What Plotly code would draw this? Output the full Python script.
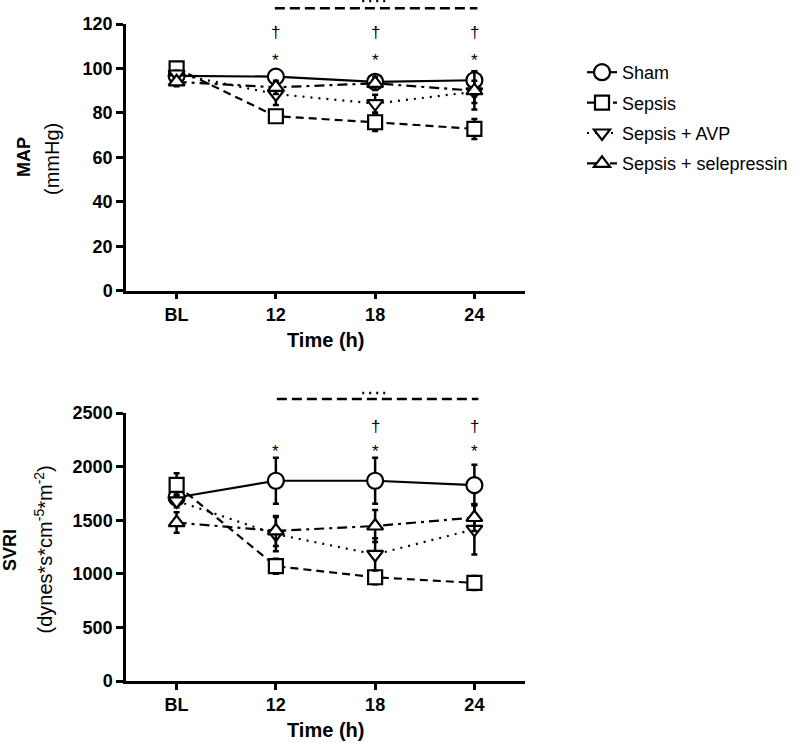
import plotly.graph_objects as go

# ---------------- data ----------------
time_labels = ["BL", "12", "18", "24"]
time_pos = [0, 1, 2, 3]
groups = ["Sham", "Sepsis", "Sepsis + AVP", "Sepsis + selepressin"]

map_sham = [96.7, 96.3, 94.0, 94.7]
map_sham_err = [1.0, 2.5, 2.0, 4.0]
map_sepsis = [100.0, 78.5, 75.8, 72.8]
map_sepsis_err = [1.5, 2.5, 4.0, 4.5]
map_avp = [97.5, 88.5, 84.2, 89.5]
map_avp_err = [1.5, 5.0, 4.0, 5.0]
map_sele = [94.0, 91.5, 93.3, 90.0]
map_sele_err = [2.0, 3.0, 3.0, 8.5]

svri_sham = [1712, 1868, 1868, 1827]
svri_sham_err = [60, 215, 215, 190]
svri_sepsis = [1830, 1071, 968, 915]
svri_sepsis_err = [107, 70, 65, 65]
svri_avp = [1680, 1370, 1181, 1415]
svri_avp_err = [60, 160, 150, 234]
svri_sele = [1478, 1400, 1446, 1525]
svri_sele_err = [95, 140, 150, 125]

# significance marks: time indices
map_marks_dagger = [1, 2, 3]
map_marks_star = [1, 2, 3]
svri_marks_dagger = [2, 3]
svri_marks_star = [1, 2, 3]

# ---------------- styles ----------------
W, H = 800, 743
FONT = "Liberation Sans, Arial, Helvetica, sans-serif"
symbols = ["circle", "square", "triangle-down", "triangle-up"]
dashes = ["solid", "8px,5px", "2px,6px", "10px,5px,3px,5px"]
sizes = [16, 14, 14, 14]

def px_x(p):
    return p / W

def px_y(p):
    return (H - p) / H

fig = go.Figure()

map_series = [(map_sham, map_sham_err), (map_sepsis, map_sepsis_err),
              (map_avp, map_avp_err), (map_sele, map_sele_err)]
svri_series = [(svri_sham, svri_sham_err), (svri_sepsis, svri_sepsis_err),
               (svri_avp, svri_avp_err), (svri_sele, svri_sele_err)]

for panel, series, xa, ya in [(0, map_series, "x", "y"), (1, svri_series, "x2", "y2")]:
    for i, (vals, errs) in enumerate(series):
        fig.add_trace(go.Scatter(
            x=time_pos, y=vals, name=groups[i], legendgroup=groups[i],
            mode="lines+markers", xaxis=xa, yaxis=ya,
            line=dict(color="black", width=2.2, dash=dashes[i]),
            marker=dict(symbol=symbols[i], size=sizes[i], color="white",
                        line=dict(color="black", width=2.2)),
            error_y=dict(type="data", array=errs, color="black", thickness=2.5, width=3),
            showlegend=(panel == 0),
        ))

xdom = [px_x(126), px_x(525)]
axis_common = dict(showline=True, linecolor="black", linewidth=2.5, ticks="outside",
                   tickcolor="black", tickwidth=2.5, showgrid=False, zeroline=False,
                   tickfont=dict(family=FONT, size=18, color="black", weight="bold"))

fig.update_layout(
    width=W, height=H,
    margin=dict(l=0, r=0, t=0, b=0, autoexpand=False),
    paper_bgcolor="white", plot_bgcolor="white",
    xaxis=dict(domain=xdom, range=[-0.51, 3.51], anchor="y", tickvals=time_pos,
               ticktext=time_labels, ticklen=6, **axis_common),
    yaxis=dict(domain=[px_y(290.7), px_y(24)], range=[0, 120], anchor="x", dtick=20,
               ticklen=7, **axis_common),
    xaxis2=dict(domain=xdom, range=[-0.51, 3.51], anchor="y2", tickvals=time_pos,
                ticktext=time_labels, ticklen=6, **axis_common),
    yaxis2=dict(domain=[px_y(681), px_y(413)], range=[0, 2500], anchor="x2", dtick=500,
                ticklen=7, **axis_common),
    legend=dict(x=px_x(582), y=px_y(54), xanchor="left", yanchor="top",
                font=dict(family=FONT, size=18, color="black"),
                tracegroupgap=4, itemwidth=30, bgcolor="rgba(0,0,0,0)"),
    font=dict(family=FONT, color="black"),
)

anns = []
# axis titles
anns.append(dict(text="<b>MAP</b>", x=px_x(24.5), y=px_y(157.5), textangle=-90,
                 font=dict(size=18)))
anns.append(dict(text="(mmHg)", x=px_x(52), y=px_y(159), textangle=-90,
                 font=dict(size=20)))
anns.append(dict(text="<b>SVRI</b>", x=px_x(10), y=px_y(550), textangle=-90,
                 font=dict(size=18)))
anns.append(dict(text="(dynes*s*cm<sup>-5</sup>*m<sup>-2</sup>)", x=px_x(42.5), y=px_y(550),
                 textangle=-90, font=dict(size=20)))
anns.append(dict(text="<b>Time (h)</b>", x=px_x(325.5), y=px_y(340), font=dict(size=20)))
anns.append(dict(text="<b>Time (h)</b>", x=px_x(325.5), y=px_y(730), font=dict(size=20)))
for a in anns:
    a.update(xref="paper", yref="paper", showarrow=False)
    a["font"].update(family=FONT, color="black")

# significance marks
for t in map_marks_dagger:
    anns.append(dict(text="†", x=t, xref="x", y=px_y(33), yref="paper", showarrow=False,
                     font=dict(family=FONT, size=17, color="black")))
for t in map_marks_star:
    anns.append(dict(text="*", x=t, xref="x", y=px_y(60), yref="paper", showarrow=False,
                     font=dict(family=FONT, size=17, color="black")))
for t in svri_marks_dagger:
    anns.append(dict(text="†", x=t, xref="x2", y=px_y(426), yref="paper", showarrow=False,
                     font=dict(family=FONT, size=17, color="black")))
for t in svri_marks_star:
    anns.append(dict(text="*", x=t, xref="x2", y=px_y(451), yref="paper", showarrow=False,
                     font=dict(family=FONT, size=17, color="black")))
for a in anns:
    a.update(xanchor="center", yanchor="middle")
fig.update_layout(annotations=anns)

# bracket lines
shapes = [
    dict(type="line", xref="x", yref="paper", x0=0.99, x1=3.03, y0=px_y(8.3), y1=px_y(8.3),
         line=dict(color="black", width=2.5, dash="10px,5px")),
    dict(type="line", xref="x", yref="paper", x0=1.87, x1=2.14, y0=px_y(1), y1=px_y(1),
         line=dict(color="black", width=2.5, dash="2px,5px")),
    dict(type="line", xref="x2", yref="paper", x0=1.01, x1=3.04, y0=px_y(399), y1=px_y(399),
         line=dict(color="black", width=2.5, dash="10px,5px")),
    dict(type="line", xref="x2", yref="paper", x0=1.87, x1=2.12, y0=px_y(393), y1=px_y(393),
         line=dict(color="black", width=2.5, dash="2px,5px")),
]
fig.update_layout(shapes=shapes)

fig.write_html("out.html", post_script="document.body.style.margin='0';",
               config={"displayModeBar": False})
